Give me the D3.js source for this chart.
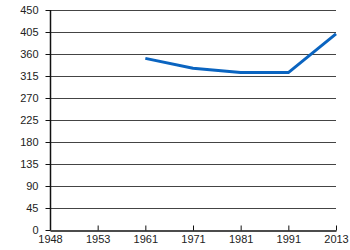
<!DOCTYPE html>
<html lang="en">
<head>
<meta charset="UTF-8">
<script src="https://d3js.org/d3.v7.min.js"></script>
<style>
  body { margin: 0; background: #fff; }
  svg text { font-family: "Liberation Sans", Arial, sans-serif; font-size: 11px; fill: #222; }
</style>
</head>
<body>
<svg id="chart"></svg>
<script>
// categories on x axis
const years = ["1948", "1953", "1961", "1971", "1981", "1991", "2013"];
// series values (null = no data)
const values = [null, null, 351, 331, 322, 322, 401];
const yTicks = [0, 45, 90, 135, 180, 225, 270, 315, 360, 405, 450];

const W = 350, H = 250;
const margin = { top: 10, right: 14, bottom: 20, left: 50 };
const width = W - margin.left - margin.right;
const height = H - margin.top - margin.bottom;

const svg = d3.select("#chart").attr("width", W).attr("height", H);
const g = svg.append("g").attr("transform", `translate(${margin.left},${margin.top})`);

const x = d3.scalePoint().domain(years).range([0, width]).padding(0);
const y = d3.scaleLinear().domain([0, 450]).range([height, 0]);

// gridlines
g.append("g")
  .selectAll("line")
  .data(yTicks.filter(d => d > 0))
  .enter().append("line")
  .attr("x1", 0).attr("x2", width)
  .attr("y1", d => Math.round(y(d)) + 0.5).attr("y2", d => Math.round(y(d)) + 0.5)
  .attr("stroke", "#444").attr("stroke-width", 1);

// y axis
const yAxis = g.append("g")
  .attr("transform", "translate(0.5,0)")
  .call(d3.axisLeft(y).tickValues(yTicks).tickSize(5).tickPadding(7));
yAxis.select(".domain").attr("stroke", "#111").attr("stroke-width", 1.5).attr("d", `M0,0V${height}`);
yAxis.selectAll(".tick line").attr("stroke", "#111");

// x axis (ticks pointing up)
const xAxis = g.append("g")
  .attr("transform", `translate(0,${height + 0.5})`)
  .call(d3.axisBottom(x).tickSizeInner(-5).tickSizeOuter(0).tickPadding(3));
xAxis.select(".domain").attr("stroke", "#111").attr("stroke-width", 1.5);
xAxis.selectAll(".tick line").attr("stroke", "#111");
xAxis.selectAll(".tick text").attr("dy", "0.9em");

// line
const data = years.map((yr, i) => ({ yr, v: values[i] }));
const line = d3.line()
  .defined(d => d.v != null)
  .x(d => x(d.yr))
  .y(d => y(d.v));

g.append("path")
  .datum(data)
  .attr("fill", "none")
  .attr("stroke", "#0a64c0")
  .attr("stroke-width", 3)
  .attr("stroke-linejoin", "round")
  .attr("d", line);
</script>
</body>
</html>
